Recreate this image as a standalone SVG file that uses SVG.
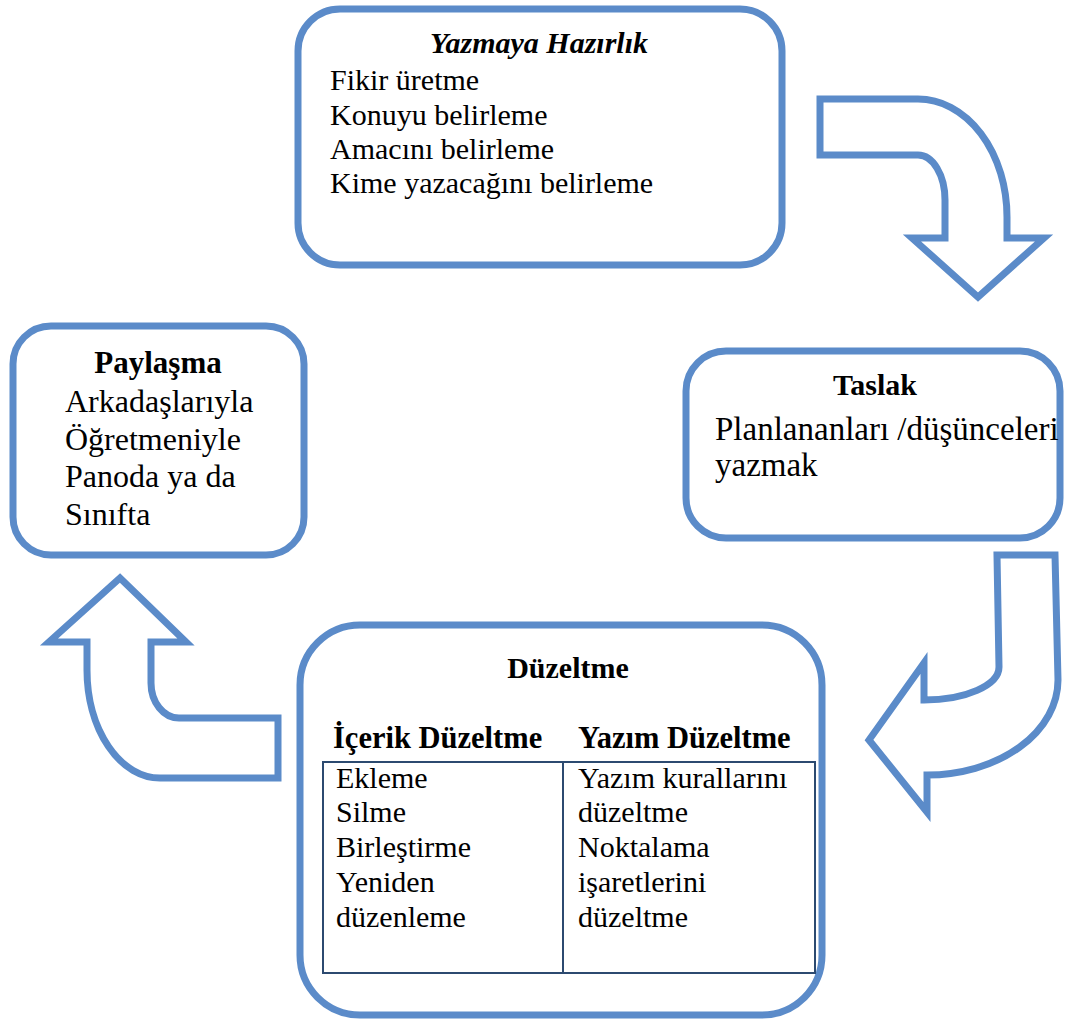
<svg xmlns="http://www.w3.org/2000/svg" width="1065" height="1023" viewBox="0 0 1065 1023">
  <style>
    .box { fill: #ffffff; stroke: #5b8bc9; stroke-width: 7; }
    .arrow { fill: #ffffff; stroke: #5b8bc9; stroke-width: 7; stroke-linejoin: miter; }
    .grid { fill: none; stroke: #2c4a70; stroke-width: 2; }
    text { font-family: "Liberation Serif", "Times New Roman", serif; fill: #000000; }
    .title { font-weight: bold; text-anchor: middle; }
  </style>
  <rect width="1065" height="1023" fill="#ffffff"/>

  <!-- connectors: block arrows between the stages -->
  <g id="connectors">
    <path class="arrow" d="M 820 99 L 918 99 A 89 118 0 0 1 1007 217 L 1007 238 L 1044 238 L 978 297 L 912 238 L 945 238 L 945 200 A 27 45 0 0 0 918 155 L 820 155 Z"/>
    <path class="arrow" d="M 997 555 L 1055 555 L 1058 680 A 131 95 0 0 1 927 775 L 927 812 L 869 740 L 924 663 L 924 700 A 75 33 0 0 0 999 667 Z"/>
    <path class="arrow" d="M 278 718 L 278 778 L 160 778 A 73 108 0 0 1 87 670 L 87 642 L 49 642 L 120 578 L 186 642 L 151 642 L 151 683 A 28 35 0 0 0 179 718 Z"/>
  </g>

  <!-- stage 1: preparation -->
  <g id="hazirlik">
    <rect class="box" x="298" y="9" width="484" height="256" rx="42"/>
    <text class="title" x="539" y="53" font-size="30" font-style="italic">Yazmaya Hazırlık</text>
    <g font-size="30">
      <text x="330" y="90">Fikir üretme</text>
      <text x="330" y="125">Konuyu belirleme</text>
      <text x="330" y="159">Amacını belirleme</text>
      <text x="330" y="193">Kime yazacağını belirleme</text>
    </g>
  </g>

  <!-- stage 2: draft -->
  <g id="taslak">
    <rect class="box" x="686" y="351" width="374" height="187" rx="40"/>
    <text class="title" x="875" y="395" font-size="30">Taslak</text>
    <g font-size="33">
      <text x="715" y="440">Planlananları /düşünceleri</text>
      <text x="715" y="476">yazmak</text>
    </g>
  </g>

  <!-- stage 3: revision -->
  <g id="duzeltme">
    <rect class="box" x="300" y="625" width="522" height="390" rx="60" stroke-width="8"/>
    <text class="title" x="568" y="678" font-size="30">Düzeltme</text>
    <g font-size="30.5" font-weight="bold">
      <text x="333" y="748">İçerik Düzeltme</text>
      <text x="578" y="748">Yazım Düzeltme</text>
    </g>
    <rect class="grid" x="323" y="762" width="492" height="211"/>
    <line class="grid" x1="563" y1="762" x2="563" y2="973"/>
    <g font-size="30">
      <text x="336" y="788">Ekleme</text>
      <text x="336" y="822">Silme</text>
      <text x="336" y="857">Birleştirme</text>
      <text x="336" y="892">Yeniden</text>
      <text x="336" y="927">düzenleme</text>
      <text x="578" y="788">Yazım kurallarını</text>
      <text x="578" y="822">düzeltme</text>
      <text x="578" y="857">Noktalama</text>
      <text x="578" y="892">işaretlerini</text>
      <text x="578" y="927">düzeltme</text>
    </g>
  </g>

  <!-- stage 4: sharing -->
  <g id="paylasma">
    <rect class="box" x="13" y="326" width="291" height="229" rx="38"/>
    <text class="title" x="158" y="373" font-size="31">Paylaşma</text>
    <g font-size="32">
      <text x="65" y="412">Arkadaşlarıyla</text>
      <text x="65" y="450">Öğretmeniyle</text>
      <text x="65" y="487">Panoda ya da</text>
      <text x="65" y="525">Sınıfta</text>
    </g>
  </g>
</svg>
